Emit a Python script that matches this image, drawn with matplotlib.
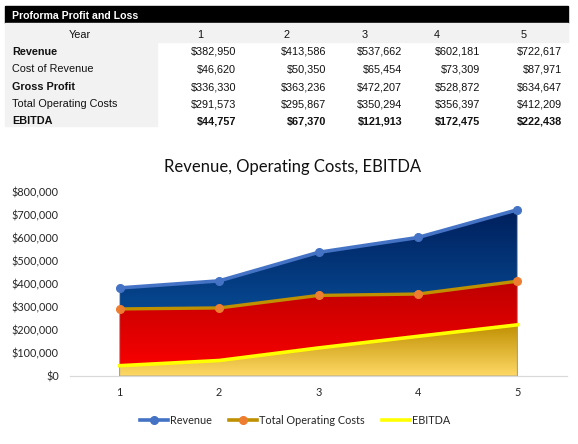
import matplotlib
matplotlib.use("Agg")
import matplotlib.pyplot as plt
import numpy as np
from matplotlib.colors import LinearSegmentedColormap
from matplotlib.patches import Rectangle
from matplotlib.lines import Line2D

# ---------------- data ----------------
years = [1, 2, 3, 4, 5]
row_labels = ["Revenue", "Cost of Revenue", "Gross Profit", "Total Operating Costs", "EBITDA"]
row_bold = [True, False, True, False, True]
revenue = [382950, 413586, 537662, 602181, 722617]
cost_of_revenue = [46620, 50350, 65454, 73309, 87971]
gross_profit = [336330, 363236, 472207, 528872, 634647]
operating_costs = [291573, 295867, 350294, 356397, 412209]
ebitda = [44757, 67370, 121913, 172475, 222438]
table_rows = [revenue, cost_of_revenue, gross_profit, operating_costs, ebitda]
y_ticks = [0, 100000, 200000, 300000, 400000, 500000, 600000, 700000, 800000]

W, H = 578, 444
fig = plt.figure(figsize=(W / 100, H / 100), dpi=100)


def fx(x):
    return x / W


def fy(y):
    return 1 - y / H


tfont = ["Liberation Sans", "DejaVu Sans"]
cfont = ["Lato", "DejaVu Sans"]
TS = 7.8

# ---------------- table ----------------
fig.patches.append(Rectangle((fx(5), fy(23)), fx(568) - fx(5), fy(6) - fy(23),
                             transform=fig.transFigure, color="black", zorder=0))
fig.patches.append(Rectangle((fx(5), fy(42)), fx(568) - fx(5), fy(23) - fy(42),
                             transform=fig.transFigure, color="#f2f2f2", zorder=0))
fig.patches.append(Rectangle((fx(5), fy(126)), fx(157) - fx(5), fy(42) - fy(126),
                             transform=fig.transFigure, color="#f2f2f2", zorder=0))
fig.text(fx(12), fy(16), "Proforma Profit and Loss", color="white", fontsize=7.6,
         fontweight="bold", family=tfont, va="center", ha="left")
fig.text(fx(80), fy(35), "Year", fontsize=TS, family=tfont, va="center", ha="center", color="#111111")
year_x = [200, 286, 365, 437, 524]
val_right = [236, 326, 402, 480, 562]
for yx, yr in zip(year_x, years):
    fig.text(fx(yx), fy(35), str(yr), fontsize=TS, family=tfont, va="center", ha="center", color="#111111")
row_y = [52, 69, 87, 104, 121]
for ry, lab, b, vals in zip(row_y, row_labels, row_bold, table_rows):
    fig.text(fx(12), fy(ry), lab, fontsize=TS, family=tfont, fontweight=("bold" if b else "normal"),
             va="center", ha="left", color="#111111")
    for vx, v in zip(val_right, vals):
        fig.text(fx(vx), fy(ry), f"${v:,.0f}", fontsize=TS, family=tfont,
                 fontweight=("bold" if lab == "EBITDA" else "normal"),
                 va="center", ha="right", color="#111111")

# ---------------- chart ----------------
ax = fig.add_axes([fx(70), fy(376), fx(567) - fx(70), fy(192) - fy(376)])
ax.set_xlim(0.5, 5.5)
ax.set_ylim(0, 800000)
x = np.array(years, dtype=float)


def grad_area(vals, c_top, c_bot, z):
    vals = np.array(vals, dtype=float)
    poly = ax.fill_between(x, 0, vals, facecolor="none", edgecolor="#a0a0a0", linewidth=0.6, zorder=z + 0.1)
    top = vals.max()
    cmap = LinearSegmentedColormap.from_list("g", [c_bot, c_top])
    grad = np.linspace(0, 1, 256).reshape(-1, 1)
    im = ax.imshow(grad, cmap=cmap, origin="lower", aspect="auto",
                   extent=[x[0], x[-1], 0, top], zorder=z)
    path = poly.get_paths()[0]
    im.set_clip_path(path, transform=ax.transData)
    return im


grad_area(revenue, "#001f5c", "#0b63b3", 1)
grad_area(operating_costs, "#bd0000", "#ff0000", 2)
grad_area(ebitda, "#bf8f00", "#ffd966", 3)

ax.set_xlim(0.5, 5.5)
ax.set_ylim(0, 800000)

ax.plot(x, revenue, color="#4472c4", lw=2.6, marker="o", ms=5.5, mfc="#4472c4", mec="#4472c4", zorder=6, clip_on=False)
ax.plot(x, operating_costs, color="#bf9000", lw=2.4, marker="o", ms=5.5, mfc="#ed7d31", mec="#ed7d31", zorder=6, clip_on=False)
ax.plot(x, ebitda, color="#ffff00", lw=2.6, zorder=6, clip_on=False)

ax.set_xticks(years)
ax.set_xticklabels([str(v) for v in years], family=cfont, fontsize=7.8, color="#262626")
ax.set_yticks(y_ticks)
ax.set_yticklabels([f"${v:,.0f}" for v in y_ticks], family=cfont, fontsize=7.8, color="#262626")
ax.tick_params(axis="both", length=0)
ax.tick_params(axis="x", pad=8)
ax.tick_params(axis="y", pad=8)
for s in ["top", "right", "left"]:
    ax.spines[s].set_visible(False)
ax.spines["bottom"].set_color("#d9d9d9")
ax.spines["bottom"].set_linewidth(0.9)
ax.set_facecolor("none")

fig.text(fx(293), fy(167), "Revenue, Operating Costs, EBITDA", family=cfont, fontsize=12,
         ha="center", va="center", color="#111111")

handles = [
    Line2D([], [], color="#4472c4", lw=2.6, marker="o", ms=5.5, mfc="#4472c4", mec="#4472c4"),
    Line2D([], [], color="#bf9000", lw=2.6, marker="o", ms=5.5, mfc="#ed7d31", mec="#ed7d31"),
    Line2D([], [], color="#ffff00", lw=2.6),
]
leg = fig.legend(handles, ["Revenue", "Total Operating Costs", "EBITDA"], loc="center",
                 bbox_to_anchor=(fx(295), fy(420)), ncol=3, frameon=False,
                 prop={"family": cfont, "size": 7.8}, handlelength=2.6, handletextpad=0.15,
                 columnspacing=1.6)
for t in leg.get_texts():
    t.set_color("#262626")

fig.savefig("out.png", dpi=100)
